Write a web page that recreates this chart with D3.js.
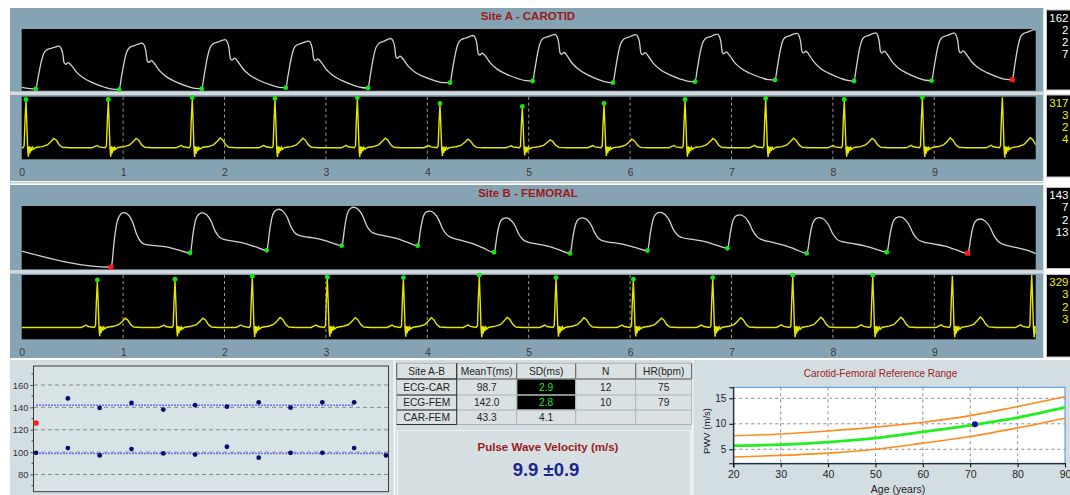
<!DOCTYPE html>
<html>
<head>
<meta charset="utf-8">
<script src="https://cdn.jsdelivr.net/npm/d3@7"></script>
<style>
  body { margin: 0; background: #fff; }
  svg { display: block; font-family: "Liberation Sans", Arial, sans-serif; }
</style>
</head>
<body>
<script>
// ---- data (times in seconds, levels in trace units 0-100) ----
var timeTicks = [0, 1, 2, 3, 4, 5, 6, 7, 8, 9];

var carotidFeet = [0.138, 0.960, 1.775, 2.604, 3.415, 4.224, 5.039, 5.831, 6.640, 7.429, 8.208, 8.974, 9.769];
var carotidFootLevel = [2.8, 1.6, 3.2, 4.9, 4.4, 13.0, 15.7, 13.0, 14.6, 17.3, 15.7, 16.2, 17.8];
var carotidPeakLevel = [72.5, 76.8, 82.2, 80.6, 82.2, 88.7, 91.9, 90.3, 90.8, 93.5, 93.5, 93.0, 99];
var carotidFootMark = ['g', 'g', 'g', 'g', 'g', 'g', 'g', 'g', 'g', 'g', 'g', 'g', 'r'];
var carotidStart = 5.5, carotidEnd = 18;

var femoralFeet = [0.881, 1.660, 2.416, 3.156, 3.905, 4.658, 5.407, 6.170, 6.959, 7.742, 8.531, 9.330];
var femoralFootLevel = [3.2, 25.8, 30.0, 37.3, 37.3, 26.9, 25.3, 29.4, 33.2, 25.3, 26.9, 25.3];
var femoralPeakLevel = [85.8, 88.5, 93.7, 98.0, 93.7, 81.5, 80.6, 89.4, 87.4, 81.5, 83.1, 80.6];
var femoralFootMark = ['r', 'g', 'g', 'g', 'g', 'g', 'g', 'g', 'g', 'g', 'g', 'r'];
var femoralStart = 28.9, femoralEnd = 18;

// ECG R waves (time, amplitude in mV) and whether they were accepted
var carotidEcgR = [0.042, 0.854, 1.682, 2.498, 3.310, 4.125, 4.937, 5.743, 6.542, 7.337, 8.112, 8.882, 9.671];
var carotidEcgAmp = [1.42, 1.42, 1.48, 1.45, 1.47, 1.30, 1.21, 1.30, 1.42, 1.45, 1.42, 1.48, 1.53];
var carotidEcgMark = [1, 1, 1, 1, 1, 1, 1, 1, 1, 1, 1, 1, 0];
var femoralEcgR = [0.746, 1.512, 2.274, 3.014, 3.764, 4.513, 5.270, 6.032, 6.815, 7.604, 8.393, 9.178, 9.961];
var femoralEcgAmp = [1.36, 1.38, 1.47, 1.44, 1.43, 1.50, 1.43, 1.38, 1.43, 1.50, 1.50, 1.53, 1.55];
var femoralEcgMark = [1, 1, 1, 1, 1, 1, 1, 1, 1, 1, 1, 0, 0];

// single-beat shapes: [phase of beat, fraction of pulse height]
var carotidShape = [[0, 0], [0.03, 0.28], [0.065, 0.62], [0.095, 0.82], [0.13, 0.91], [0.19, 0.95], [0.25, 0.99],
  [0.28, 1.0], [0.305, 0.95], [0.325, 0.82], [0.34, 0.62], [0.36, 0.58], [0.39, 0.62], [0.43, 0.55],
  [0.49, 0.40], [0.57, 0.27], [0.68, 0.16], [0.82, 0.06], [0.92, 0.01], [1, 0]];
var femoralShape = [[0, 0], [0.013, 0.08], [0.035, 0.42], [0.075, 0.84], [0.115, 0.97], [0.16, 1.0], [0.22, 0.94],
  [0.28, 0.76], [0.32, 0.56], [0.38, 0.38], [0.43, 0.32], [0.56, 0.26], [0.72, 0.19], [0.85, 0.10], [1, 0]];
// ECG complex: [seconds from R, fraction of R height]
var ecgShape = [[-0.16, 0], [-0.13, 0.03], [-0.11, 0.05], [-0.09, 0.02], [-0.03, 0], [-0.018, 0.04], [-0.009, 0.6],
  [0, 1], [0.008, 0.55], [0.017, -0.02], [0.024, -0.19], [0.031, 0.03], [0.038, -0.12], [0.046, 0.02],
  [0.055, -0.07], [0.064, 0.01], [0.075, -0.03], [0.09, 0], [0.11, 0.01], [0.16, 0.025], [0.21, 0.06],
  [0.245, 0.13], [0.275, 0.2], [0.30, 0.16], [0.33, 0.06], [0.36, 0.01], [0.43, 0]];

var carotidStats = ['162', '2', '2', '7'];
var carotidEcgStats = ['317', '3', '2', '4'];
var femoralStats = ['143', '7', '2', '13'];
var femoralEcgStats = ['329', '3', '2', '3'];

// transit times per beat (ms)
var beatIndex = [0, 1, 2, 3, 4, 5, 6, 7, 8, 9, 10, 11];
var carDelay = [99.4, 103.6, 97, 102.7, 98.8, 97.8, 104.8, 95, 99.4, 99.4, 103.6, 97];
var femDelay = [126, 148, 139.5, 144, 138, 142, 140.6, 144.5, 139.7, 144.5, 144.5];
var femRejected = [1, 0, 0, 0, 0, 0, 0, 0, 0, 0, 0];
var meanCar = 98.7, meanFem = 142.0;
var delayTicks = [80, 100, 120, 140, 160];

var tableHeader = ['Site A-B', 'MeanT(ms)', 'SD(ms)', 'N', 'HR(bpm)'];
var tableRows = [['ECG-CAR', '98.7', '2.9', '12', '75'],
                 ['ECG-FEM', '142.0', '2.8', '10', '79'],
                 ['CAR-FEM', '43.3', '4.1', '', '']];
var pwvText = '9.9 \u00b10.9';

var ages = [20, 30, 40, 50, 60, 70, 80, 90];
var refUpper = [7.65, 8.0, 8.6, 9.35, 10.3, 11.6, 13.4, 15.3];
var refMedian = [5.7, 5.9, 6.4, 7.2, 8.4, 9.7, 11.2, 13.2];
var refLower = [3.5, 3.8, 4.25, 5.0, 6.2, 7.5, 9.2, 11.1];
var pwvTicks = [5, 10, 15];
var patient = { age: 71, pwv: 9.9 };

// ---- layout ----
var width = 1070, height = 495;
var panelColor = '#86a3b4', lightColor = '#d3dee2';
var svg = d3.select('body').append('svg').attr('width', width).attr('height', height);
var defs = svg.append('defs');

svg.append('rect').attr('width', width).attr('height', height).attr('fill', '#fff');

var xTime = d3.scaleLinear().domain([0, 10]).range([21.7, 1035.7]);

var strips = {
  carotid:    { top: 29, bottom: 90.7 },
  carotidEcg: { top: 96.7, bottom: 159.3 },
  femoral:    { top: 206, bottom: 269.3 },
  femoralEcg: { top: 275, bottom: 339.3 }
};

function buildPressure(feet, footLv, peakLv, startLv, endLv, shape) {
  var pts = [[0, startLv]];
  feet.forEach(function (t0, i) {
    var last = i === feet.length - 1;
    var period = last ? t0 - feet[i - 1] : feet[i + 1] - t0;
    var next = last ? endLv : footLv[i + 1];
    var pulse = peakLv[i] - footLv[i];
    shape.forEach(function (s) {
      if (s[0] === 1 && !last) return;
      pts.push([t0 + s[0] * period, footLv[i] + (next - footLv[i]) * s[0] + s[1] * pulse]);
    });
  });
  return pts;
}

function buildEcg(rs, amps, shape) {
  var pts = [];
  rs.forEach(function (r, i) {
    shape.forEach(function (s) { pts.push([r + s[0], s[1] * amps[i]]); });
  });
  if (pts[0][0] > 0) pts.unshift([0, 0]);
  if (pts[pts.length - 1][0] < 10) pts.push([10, 0]);
  return pts;
}

function drawSite(y0, title, titleY, pressKey, ecgKey, press, ecg, statsA, statsB, boxA, boxB, axisY) {
  // panel background
  svg.append('rect').attr('x', 10).attr('y', y0).attr('width', 1033.3).attr('height', 173)
    .attr('fill', panelColor);
  svg.append('text').attr('x', 528).attr('y', titleY).attr('text-anchor', 'middle')
    .attr('font-size', 11.5).attr('font-weight', 'bold').attr('fill', '#9a1a1a').text(title);

  var ps = strips[pressKey], es = strips[ecgKey];
  // separator bar between pressure and ECG
  svg.append('rect').attr('x', 10).attr('y', ps.bottom + 0.8).attr('width', 1033.3).attr('height', 3.5)
    .attr('fill', '#d6d9db');

  [ps, es].forEach(function (s, k) {
    svg.append('rect').attr('x', xTime(0)).attr('y', s.top).attr('width', xTime(10) - xTime(0))
      .attr('height', s.bottom - s.top).attr('fill', '#000');
    defs.append('clipPath').attr('id', 'clip-' + pressKey + k).append('rect')
      .attr('x', xTime(0)).attr('y', s.top).attr('width', xTime(10) - xTime(0)).attr('height', s.bottom - s.top);
  });

  // dashed second markers in the ECG strip
  svg.append('g').selectAll('line').data(timeTicks.slice(1)).join('line')
    .attr('x1', function (d) { return xTime(d); }).attr('x2', function (d) { return xTime(d); })
    .attr('y1', es.top).attr('y2', es.bottom + 2)
    .attr('stroke', '#9a9a9a').attr('stroke-width', 1).attr('stroke-dasharray', '3,3');

  // pressure trace
  var yP = d3.scaleLinear().domain([0, 100]).range([ps.bottom, ps.top]);
  var pPts = buildPressure(press.feet, press.foot, press.peak, press.start, press.end, press.shape);
  svg.append('path').datum(pPts)
    .attr('d', d3.line().x(function (d) { return xTime(d[0]); }).y(function (d) { return yP(d[1]); })
      .curve(d3.curveMonotoneX))
    .attr('fill', 'none').attr('stroke', '#d2d2d2').attr('stroke-width', 1.3)
    .attr('clip-path', 'url(#clip-' + pressKey + '0)');
  var marks = svg.append('g');
  press.feet.forEach(function (t, i) {
    if (press.mark[i] === 'r') {
      marks.append('rect').attr('x', xTime(t) - 2.5).attr('y', yP(press.foot[i]) - 2.5)
        .attr('width', 5).attr('height', 5).attr('fill', '#ff1a1a');
    } else {
      marks.append('circle').attr('cx', xTime(t)).attr('cy', yP(press.foot[i])).attr('r', 2.4)
        .attr('fill', '#14e614');
    }
  });

  // ECG trace
  var yE = d3.scaleLinear().domain([-0.35, 1.55]).range([es.bottom, es.top]);
  var ePts = buildEcg(ecg.r, ecg.amp, ecgShape);
  svg.append('path').datum(ePts)
    .attr('d', d3.line().x(function (d) { return xTime(d[0]); }).y(function (d) { return yE(d[1]); }))
    .attr('fill', 'none').attr('stroke', '#e6e600').attr('stroke-width', 1.4)
    .attr('clip-path', 'url(#clip-' + pressKey + '1)');
  svg.append('g').selectAll('circle').data(ecg.r.filter(function (d, i) { return ecg.mark[i]; })).join('circle')
    .attr('cx', function (d) { return xTime(d); })
    .attr('cy', function (d) { return yE(ecg.amp[ecg.r.indexOf(d)]) - 1.5; })
    .attr('r', 2.4).attr('fill', '#14e614');

  // time axis
  var axis = svg.append('g').attr('transform', 'translate(0,' + es.bottom + ')')
    .call(d3.axisBottom(xTime).tickValues(timeTicks).tickSize(0).tickPadding(axisY - es.bottom - 7.4)
      .tickFormat(d3.format('d')));
  axis.select('.domain').remove();
  axis.selectAll('text').attr('font-size', 10.5).attr('fill', '#3a3a3a').attr('font-family', null);

  // side value boxes
  [[boxA, statsA, '#ffffff'], [boxB, statsB, '#f0f000']].forEach(function (b) {
    svg.append('rect').attr('x', 1046.5).attr('y', b[0][0]).attr('width', 30).attr('height', b[0][1] - b[0][0])
      .attr('fill', '#000').attr('stroke', '#c4c4c4');
    svg.append('g').selectAll('text').data(b[1]).join('text')
      .attr('x', 1068.5).attr('y', function (d, i) { return b[0][0] + 11.5 + i * 12.3; })
      .attr('text-anchor', 'end').attr('font-size', 11.5).attr('fill', b[2]).text(function (d) { return d; });
  });
}

drawSite(8, 'Site A - CAROTID', 20, 'carotid', 'carotidEcg',
  { feet: carotidFeet, foot: carotidFootLevel, peak: carotidPeakLevel, start: carotidStart, end: carotidEnd,
    shape: carotidShape, mark: carotidFootMark },
  { r: carotidEcgR, amp: carotidEcgAmp, mark: carotidEcgMark },
  carotidStats, carotidEcgStats, [10, 90], [95, 177], 176);

// white double rule between the two sites
svg.append('rect').attr('x', 10).attr('y', 181).attr('width', 1033.3).attr('height', 4).attr('fill', '#fff');
svg.append('line').attr('x1', 10).attr('x2', 1043.3).attr('y1', 182.8).attr('y2', 182.8)
  .attr('stroke', '#b0b4b6').attr('stroke-width', 1);

drawSite(185, 'Site B - FEMORAL', 196.7, 'femoral', 'femoralEcg',
  { feet: femoralFeet, foot: femoralFootLevel, peak: femoralPeakLevel, start: femoralStart, end: femoralEnd,
    shape: femoralShape, mark: femoralFootMark },
  { r: femoralEcgR, amp: femoralEcgAmp, mark: femoralEcgMark },
  femoralStats, femoralEcgStats, [187.5, 268.5], [274.5, 357], 355.5);

// ---- lower row ----
svg.append('rect').attr('x', 10).attr('y', 360).attr('width', 1060).attr('height', 135).attr('fill', lightColor);
svg.append('line').attr('x1', 394.5).attr('x2', 394.5).attr('y1', 360).attr('y2', 495)
  .attr('stroke', '#f4f6f7').attr('stroke-width', 2);
svg.append('line').attr('x1', 692.5).attr('x2', 692.5).attr('y1', 360).attr('y2', 495)
  .attr('stroke', '#f4f6f7').attr('stroke-width', 2);

// transit-time scatter
var sx = d3.scaleLinear().domain([-0.08, 11.08]).range([33.5, 388.5]);
var sy = d3.scaleLinear().domain([64.6, 177]).range([491.7, 366]);
svg.append('rect').attr('x', 33.5).attr('y', 366).attr('width', 355).attr('height', 125.7)
  .attr('fill', '#d8e3e6').attr('stroke', '#3c3c3c');
svg.append('g').selectAll('line').data(delayTicks).join('line')
  .attr('x1', 34).attr('x2', 388).attr('y1', function (d) { return sy(d); }).attr('y2', function (d) { return sy(d); })
  .attr('stroke', '#8a8a8a').attr('stroke-dasharray', '4,3');
var sAxis = svg.append('g').attr('transform', 'translate(33.5,0)')
  .call(d3.axisLeft(sy).tickValues(delayTicks).tickSize(3).tickPadding(2));
sAxis.select('.domain').remove();
sAxis.selectAll('line').attr('stroke', '#444');
sAxis.selectAll('text').attr('font-size', 9.5).attr('fill', '#333').attr('font-family', null);
svg.append('g').selectAll('line').data(d3.range(70, 180, 20)).join('line')
  .attr('x1', 31.5).attr('x2', 33.5).attr('y1', function (d) { return sy(d); }).attr('y2', function (d) { return sy(d); })
  .attr('stroke', '#444');

svg.append('line').attr('x1', sx(0)).attr('x2', sx(femDelay.length - 1))
  .attr('y1', sy(meanFem)).attr('y2', sy(meanFem))
  .attr('stroke', '#6272ff').attr('stroke-width', 1.5).attr('stroke-dasharray', '2,1');
svg.append('line').attr('x1', sx(0)).attr('x2', sx(carDelay.length - 1))
  .attr('y1', sy(meanCar)).attr('y2', sy(meanCar))
  .attr('stroke', '#6272ff').attr('stroke-width', 1.5).attr('stroke-dasharray', '2,1');

svg.append('g').selectAll('circle').data(carDelay).join('circle')
  .attr('cx', function (d, i) { return sx(beatIndex[i]); }).attr('cy', function (d) { return sy(d); })
  .attr('r', 2.4).attr('fill', '#0c0c70');
svg.append('g').selectAll('circle').data(femDelay).join('circle')
  .attr('cx', function (d, i) { return sx(beatIndex[i]); }).attr('cy', function (d) { return sy(d); })
  .attr('r', function (d, i) { return femRejected[i] ? 2.8 : 2.4; })
  .attr('fill', function (d, i) { return femRejected[i] ? '#ff2020' : '#0c0c70'; });

// results table
var colX = [396.7, 456.7, 516.7, 575.7, 635.7, 691.7];
var rowY = [363.3, 379, 395, 410, 424.5];
svg.append('rect').attr('x', colX[0]).attr('y', rowY[0]).attr('width', colX[5] - colX[0])
  .attr('height', rowY[4] - rowY[0]).attr('fill', '#dae1e3');
[0, 1].forEach(function (r) {
  svg.append('rect').attr('x', colX[2] + 0.5).attr('y', rowY[r + 1] + 0.5)
    .attr('width', colX[3] - colX[2] - 1).attr('height', rowY[r + 2] - rowY[r + 1] - 1).attr('fill', '#000');
});
var grid = svg.append('g').attr('stroke-width', 1);
rowY.forEach(function (y, i) {
  grid.append('line').attr('x1', colX[0]).attr('x2', colX[5]).attr('y1', y).attr('y2', y)
    .attr('stroke', i === 1 ? '#505050' : '#aab2b6');
});
colX.forEach(function (x, i) {
  grid.append('line').attr('x1', x).attr('x2', x).attr('y1', rowY[0]).attr('y2', rowY[4])
    .attr('stroke', '#aab2b6');
  grid.append('line').attr('x1', x).attr('x2', x).attr('y1', rowY[0]).attr('y2', rowY[1])
    .attr('stroke', '#606060');
});
rowY.slice(1).forEach(function (y) {
  grid.append('line').attr('x1', colX[0]).attr('x2', colX[1]).attr('y1', y).attr('y2', y).attr('stroke', '#303030');
});
grid.append('line').attr('x1', colX[1]).attr('x2', colX[1]).attr('y1', rowY[0]).attr('y2', rowY[4]).attr('stroke', '#303030');

function cellText(row, r) {
  svg.append('g').selectAll('text').data(row).join('text')
    .attr('x', function (d, c) { return (colX[c] + colX[c + 1]) / 2; })
    .attr('y', (rowY[r] + rowY[r + 1]) / 2 + 3.8)
    .attr('text-anchor', 'middle').attr('font-size', 10.2)
    .attr('fill', function (d, c) { return (c === 2 && r > 0 && r < 3) ? '#1ee61e' : '#1e1e1e'; })
    .text(function (d) { return d; });
}
cellText(tableHeader, 0);
tableRows.forEach(function (row, i) { cellText(row, i + 1); });

// PWV result box
svg.append('rect').attr('x', 397.5).attr('y', 430.5).attr('width', 293).attr('height', 70)
  .attr('fill', '#d6e0e3').attr('stroke', '#eef2f3');
svg.append('text').attr('x', 548).attr('y', 450.5).attr('text-anchor', 'middle')
  .attr('font-size', 11.5).attr('font-weight', 'bold').attr('fill', '#9a1a1a').text('Pulse Wave Velocity (m/s)');
svg.append('text').attr('x', 546).attr('y', 476).attr('text-anchor', 'middle')
  .attr('font-size', 18.5).attr('font-weight', 'bold').attr('fill', '#1a2590').text(pwvText);

// reference range chart
var rx = d3.scaleLinear().domain([20, 90]).range([733.3, 1065]);
var ry = d3.scaleLinear().domain([2.25, 17.16]).range([463.3, 387.3]);
svg.append('text').attr('x', 880.5).attr('y', 376.5).attr('text-anchor', 'middle')
  .attr('font-size', 10).attr('fill', '#a01c1c').text('Carotid-Femoral Reference Range');
svg.append('rect').attr('x', rx(20)).attr('y', ry(17.16)).attr('width', rx(90) - rx(20))
  .attr('height', ry(2.25) - ry(17.16)).attr('fill', '#fff').attr('stroke', '#4d8fd6');
svg.append('g').selectAll('line').data(ages.slice(1, -1)).join('line')
  .attr('x1', function (d) { return rx(d); }).attr('x2', function (d) { return rx(d); })
  .attr('y1', ry(17.16)).attr('y2', ry(2.25))
  .attr('stroke', '#8c8c8c').attr('stroke-dasharray', '3,3');
svg.append('g').selectAll('line').data(pwvTicks).join('line')
  .attr('x1', rx(20)).attr('x2', rx(90)).attr('y1', function (d) { return ry(d); }).attr('y2', function (d) { return ry(d); })
  .attr('stroke', '#8c8c8c').attr('stroke-dasharray', '3,3');

var refLine = d3.line().x(function (d, i) { return rx(ages[i]); }).y(function (d) { return ry(d); })
  .curve(d3.curveMonotoneX);
[[refUpper, '#ff8a1c', 1.6], [refLower, '#ff8a1c', 1.6], [refMedian, '#22ee22', 2.8]].forEach(function (c) {
  svg.append('path').datum(c[0]).attr('d', refLine).attr('fill', 'none')
    .attr('stroke', c[1]).attr('stroke-width', c[2]);
});
svg.append('circle').attr('cx', rx(patient.age)).attr('cy', ry(patient.pwv)).attr('r', 3)
  .attr('fill', '#1010a0');

var ryAxis = svg.append('g').attr('transform', 'translate(' + rx(20) + ',0)')
  .call(d3.axisLeft(ry).tickValues(pwvTicks).tickSize(4).tickPadding(3));
ryAxis.select('.domain').attr('stroke', '#000');
ryAxis.selectAll('line').attr('stroke', '#000');
ryAxis.selectAll('text').attr('font-size', 10).attr('fill', '#222').attr('font-family', null);
var rxAxis = svg.append('g').attr('transform', 'translate(0,' + ry(2.25) + ')')
  .call(d3.axisBottom(rx).tickValues(ages).tickSize(4).tickPadding(3));
rxAxis.select('.domain').attr('stroke', '#000');
rxAxis.selectAll('line').attr('stroke', '#000');
rxAxis.selectAll('text').attr('font-size', 10.5).attr('fill', '#222').attr('font-family', null);
svg.append('text').attr('x', 898).attr('y', 493).attr('text-anchor', 'middle')
  .attr('font-size', 10.5).attr('fill', '#222').text('Age (years)');
svg.append('text').attr('transform', 'translate(710,431) rotate(-90)').attr('text-anchor', 'middle')
  .attr('font-size', 9.5).attr('fill', '#222').text('PWV (m/s)');
</script>
</body>
</html>
